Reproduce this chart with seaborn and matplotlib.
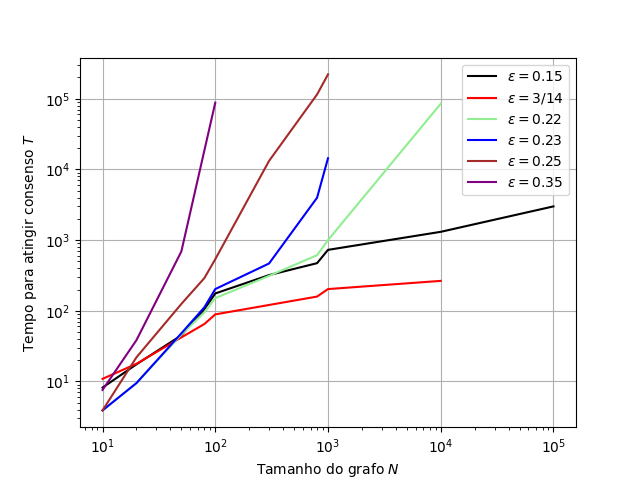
import pandas as pd
import matplotlib
matplotlib.use('Agg')
import matplotlib.pyplot as plt
import seaborn as sns

# dados
n_015 = [10, 20, 50, 80, 100, 300, 800, 1000, 10000, 100000]
t_015 = [8.2, 17.5, 45, 105, 176, 320, 472, 728, 1310, 3000]

n_314 = [10, 20, 50, 80, 100, 800, 1000, 10000]
t_314 = [10.9, 17.8, 42, 65, 89, 159, 203, 265]

n_022 = [10, 20, 50, 80, 100, 300, 800, 1000, 10000]
t_022 = [3.9, 9.5, 46, 95, 151, 312, 612, 1000, 85000]

n_023 = [10, 20, 50, 80, 100, 300, 800, 1000]
t_023 = [3.9, 9.5, 48, 112, 203, 467, 3980, 14400]

n_025 = [10, 20, 50, 80, 100, 300, 800, 1000]
t_025 = [3.9, 22, 125, 290, 537, 13200, 115000, 221000]

n_035 = [10, 20, 50, 100]
t_035 = [7.6, 38.5, 690, 88000]

labels = [r'$\epsilon = 0.15$', r'$\epsilon = 3/14$', r'$\epsilon = 0.22$',
          r'$\epsilon = 0.23$', r'$\epsilon = 0.25$', r'$\epsilon = 0.35$']
cores = ['black', 'red', 'lightgreen', 'blue', 'brown', 'purple']

series = [(n_015, t_015), (n_314, t_314), (n_022, t_022),
          (n_023, t_023), (n_025, t_025), (n_035, t_035)]

linhas = []
for lab, (n, t) in zip(labels, series):
    for a, b in zip(n, t):
        linhas.append({'N': a, 'T': b, 'eps': lab})
df = pd.DataFrame(linhas)

fig, ax = plt.subplots(figsize=(6.4, 4.8), dpi=100)
sns.lineplot(data=df, x='N', y='T', hue='eps', hue_order=labels,
             palette=dict(zip(labels, cores)), estimator=None, sort=False,
             linewidth=1.5, ax=ax)
ax.set_xscale('log')
ax.set_yscale('log')
ax.grid(True, which='major', color='#b0b0b0', linewidth=0.8)
ax.set_xlabel('Tamanho do grafo $N$')
ax.set_ylabel('Tempo para atingir consenso $T$')
ax.legend(loc='upper right', title=None)

plt.savefig('out.png', dpi=100)
